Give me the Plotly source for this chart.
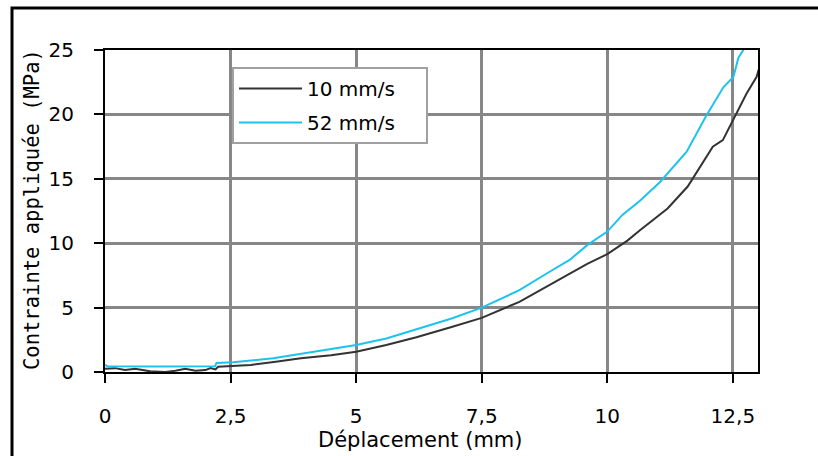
import plotly.graph_objects as go

# ---- data ----
series_names = ["10 mm/s", "52 mm/s"]
series_colors = ["#333333", "#1CC3EE"]

x_10 = [0.0, 0.2, 0.4, 0.6, 0.9, 1.2, 1.4, 1.6, 1.8, 2.0, 2.1, 2.2, 2.25, 2.5, 2.9, 3.4,
        3.9, 4.5, 5.0, 5.6, 6.2, 6.9, 7.5, 8.25, 8.9, 9.6, 10.0, 10.4, 10.65, 11.2,
        11.6, 11.9, 12.1, 12.3, 12.55, 12.77, 12.97, 13.07]
y_10 = [0.25, 0.3, 0.15, 0.25, 0.05, 0.0, 0.1, 0.25, 0.1, 0.15, 0.3, 0.2, 0.4, 0.45, 0.55, 0.8,
        1.06, 1.3, 1.57, 2.1, 2.7, 3.5, 4.2, 5.45, 6.85, 8.4, 9.15, 10.2, 11.0, 12.7,
        14.4, 16.2, 17.5, 18.0, 19.9, 21.6, 22.9, 24.2]

x_52 = [0.0, 0.05, 1.0, 2.19, 2.22, 2.55, 3.35, 4.2, 5.0, 5.6, 6.2, 6.9, 7.5, 8.25, 8.9,
        9.25, 9.6, 10.0, 10.3, 10.65, 11.05, 11.2, 11.58, 11.97, 12.31, 12.51, 12.61, 12.74]
y_52 = [0.55, 0.45, 0.42, 0.45, 0.7, 0.75, 1.06, 1.57, 2.09, 2.6, 3.3, 4.15, 5.0, 6.35, 7.9,
        8.7, 9.85, 10.9, 12.2, 13.3, 14.75, 15.4, 17.1, 19.9, 22.1, 22.9, 24.4, 25.2]

x_tickvals = [0, 2.5, 5, 7.5, 10, 12.5]
x_ticktext = ["0", "2,5", "5", "7,5", "10", "12,5"]
y_tickvals = [0, 5, 10, 15, 20, 25]
y_ticktext = ["0", "5", "10", "15", "20", "25"]

x_title = "Déplacement (mm)"
y_title = "Contrainte appliquée (MPa)"

# ---- layout constants ----
W, H = 818, 456
ML, MR, MT, MB = 105, 60, 50, 84
PW, PH = W - ML - MR, H - MT - MB
LEGEND_PAD = "\u00a0" * 4  # right padding inside the legend box

def px_x(p):
    return (p - ML) / PW

def px_y(p):
    return (H - MB - p) / PH

FONT = "DejaVu Sans"

fig = go.Figure()
for name, color, xs, ys in [(series_names[0], series_colors[0], x_10, y_10),
                            (series_names[1], series_colors[1], x_52, y_52)]:
    fig.add_trace(go.Scatter(x=xs, y=ys, mode="lines", name=name + LEGEND_PAD,
                             legendgroup=name, line=dict(color=color, width=2)))

axis_common = dict(showline=True, linecolor="black", linewidth=2, mirror=True,
                   showgrid=True, gridcolor="#878787", gridwidth=3, zeroline=False,
                   ticks="outside", tickcolor="black", tickwidth=2, ticklen=9,
                   tickfont=dict(family=FONT, size=20, color="black"))

fig.update_xaxes(range=[0, 13], tickvals=x_tickvals, ticktext=x_ticktext,
                 ticklabelstandoff=16, **axis_common)
fig.update_yaxes(range=[0, 25], tickvals=y_tickvals, ticktext=y_ticktext,
                 ticklabelstandoff=16, **axis_common)

fig.update_layout(
    width=W, height=H,
    margin=dict(l=ML, r=MR, t=MT, b=MB, pad=0),
    plot_bgcolor="white", paper_bgcolor="white",
    font=dict(family=FONT, size=20, color="black"),
    showlegend=True,
    legend=dict(x=px_x(232), y=px_y(67), xanchor="left", yanchor="top",
                bgcolor="white", bordercolor="#a0a0a0", borderwidth=2,
                font=dict(family=FONT, size=20, color="black"),
                tracegroupgap=5, itemwidth=63),
    annotations=[
        dict(text=x_title, xref="paper", yref="paper", x=px_x(420), y=px_y(440),
             xanchor="center", yanchor="middle", showarrow=False,
             font=dict(family=FONT, size=21, color="black")),
        dict(text=y_title, xref="paper", yref="paper", x=px_x(32), y=px_y(210),
             xanchor="center", yanchor="middle", showarrow=False, textangle=-90,
             font=dict(family="DejaVu Sans Mono", size=20.5, color="black")),
    ],
    shapes=[
        # outer frame: only its top and left edges fall inside the canvas
        dict(type="rect", xref="paper", yref="paper", x0=px_x(12), x1=px_x(W + 40),
             y0=px_y(8), y1=px_y(H + 40), line=dict(color="black", width=3),
             fillcolor="rgba(0,0,0,0)", layer="below"),
    ],
)

fig.write_html(
    "out.html", config={"displayModeBar": False},
    post_script=("document.body.style.margin='0px';"
                 "document.body.style.overflow='hidden';"
                 "document.documentElement.style.overflow='hidden';"))
